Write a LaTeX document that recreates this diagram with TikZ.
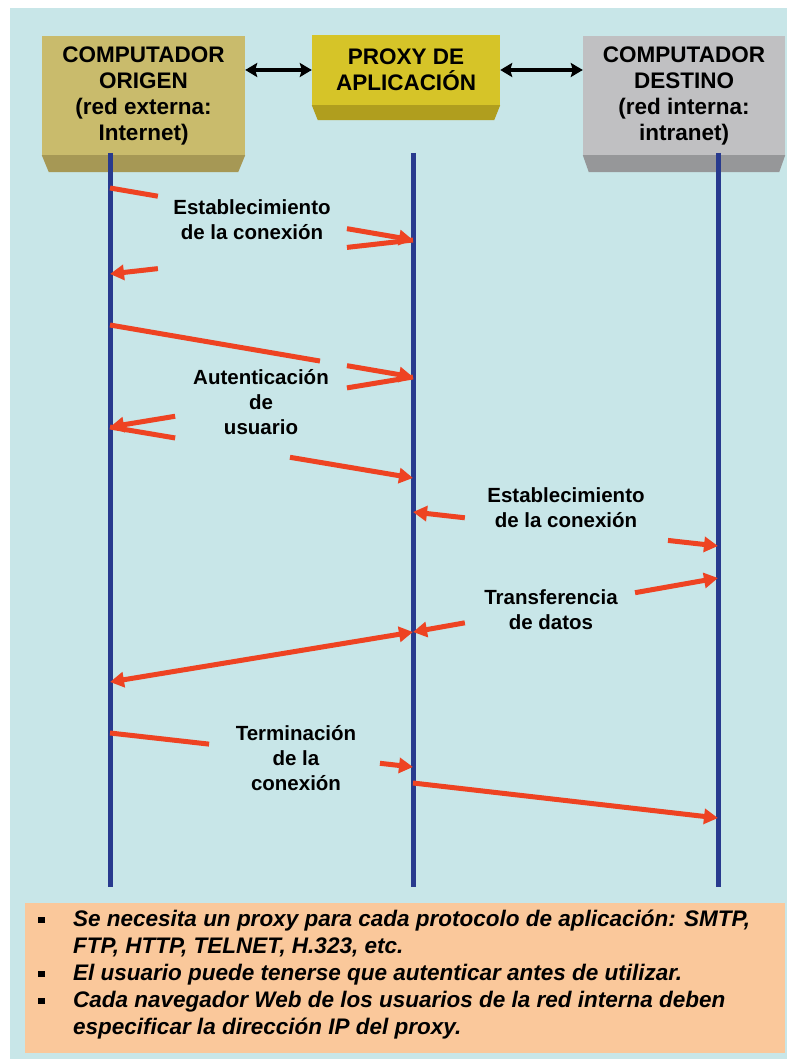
\documentclass[tikz,border=0pt]{standalone}
\usepackage{fontspec}
\setmainfont{Liberation Sans}
\usetikzlibrary{arrows.meta,calc}
\definecolor{bgc}{RGB}{200,230,232}
\definecolor{orgc}{RGB}{250,200,155}
\definecolor{boxAc}{RGB}{201,187,108}
\definecolor{boxAd}{RGB}{166,152,85}
\definecolor{boxBc}{RGB}{214,196,40}
\definecolor{boxBd}{RGB}{176,158,30}
\definecolor{boxCc}{RGB}{192,192,194}
\definecolor{boxCd}{RGB}{150,151,153}
\definecolor{msgc}{RGB}{238,67,34}
\definecolor{lifec}{RGB}{40,58,142}
\newcommand\bulsq{\rule[3pt]{6.5pt}{6.5pt}}
\begin{document}
\begin{tikzpicture}[x=1pt,y=-1pt,
  hdr/.style={inner sep=0pt, align=center, font=\fontsize{22.5}{26}\selectfont\bfseries},
  lbl/.style={inner sep=0pt, align=center, font=\fontsize{20.5}{25}\selectfont\bfseries},
  dbl/.style={line width=4pt, black, {Stealth[length=12pt,width=14pt,inset=2pt]}-{Stealth[length=12pt,width=14pt,inset=2pt]}},
  life/.style={line width=5pt, lifec},
  msg/.style={line width=5pt, msgc},
  tip/.style={-{Triangle[length=14pt,width=15pt]}},
  tipback/.style={{Triangle[length=14pt,width=15pt]}-},
  tipboth/.style={{Triangle[length=14pt,width=15pt]}-{Triangle[length=14pt,width=15pt]}}
]
\useasboundingbox (0,0) rectangle (793,1059);
\fill[bgc] (10,8) rectangle (787,1059);
\fill[orgc] (25,903) rectangle (785,1053);

% boxes
\node[hdr, fill=boxAc, minimum width=203pt, minimum height=119pt] (orig) at (143.5,95.5)
  {COMPUTADOR\\ORIGEN\\(red externa:\\Internet)};
\node[hdr, fill=boxBc, minimum width=188pt, minimum height=70pt] (proxy) at (406,70)
  {PROXY DE\\APLICACIÓN};
\node[hdr, fill=boxCc, minimum width=202pt, minimum height=119pt] (dest) at (684,95.5)
  {COMPUTADOR\\DESTINO\\(red interna:\\intranet)};
\fill[boxAd] (orig.south west) -- (orig.south east) -- ($(orig.south east)+(-7,17)$) -- ($(orig.south west)+(7,17)$) -- cycle;
\fill[boxBd] (proxy.south west) -- (proxy.south east) -- ($(proxy.south east)+(-6,15)$) -- ($(proxy.south west)+(6,15)$) -- cycle;
\fill[boxCd] (dest.south west) -- (dest.south east) -- ($(dest.south east)+(-6,17)$) -- ($(dest.south west)+(6,17)$) -- cycle;

\draw[dbl] (orig.east |- proxy) -- (proxy.west);
\draw[dbl] (proxy.east) -- (dest.west |- proxy);

% lifelines
\coordinate (L1t) at (110,153); \coordinate (L1b) at (110,887);
\coordinate (L2t) at (413,153); \coordinate (L2b) at (413,887);
\coordinate (L3t) at (718,153); \coordinate (L3b) at (718,887);
\draw[life] (L1t) -- (L1b);
\draw[life] (L2t) -- (L2b);
\draw[life] (L3t) -- (L3b);

% message end points
\coordinate (a1s) at (110,188); \coordinate (a1e) at (413,240);
\coordinate (a2e) at (110,274);
\coordinate (a3s) at (110,325); \coordinate (a3e) at (413,377);
\coordinate (a4e) at (110,427);
\coordinate (a5e) at (413,478);
\coordinate (a6s) at (413,512); \coordinate (a6e) at (718,546);
\coordinate (a7s) at (413,632); \coordinate (a7e) at (718,578);
\coordinate (a8s) at (110,682);
\coordinate (a9s) at (110,733); \coordinate (a9e) at (413,767);
\coordinate (a10s) at (413,783); \coordinate (a10e) at (718,818);

% messages (interrupted by labels)
\draw[msg] (a1s) -- ($(a1s)!0.158!(a1e)$);
\draw[msg,tip] ($(a1s)!0.782!(a1e)$) -- (a1e);
\draw[msg] (a1e) -- ($(a1e)!0.218!(a2e)$);
\draw[msg,tip] ($(a1e)!0.842!(a2e)$) -- (a2e);
\draw[msg] (a3s) -- ($(a3s)!0.693!(a3e)$);
\draw[msg,tip] ($(a3s)!0.782!(a3e)$) -- (a3e);
\draw[msg] (a3e) -- ($(a3e)!0.218!(a4e)$);
\draw[msg,tip] ($(a3e)!0.785!(a4e)$) -- (a4e);
\draw[msg] (a4e) -- ($(a4e)!0.215!(a5e)$);
\draw[msg,tip] ($(a4e)!0.594!(a5e)$) -- (a5e);
\draw[msg,tipback] (a6s) -- ($(a6s)!0.17!(a6e)$);
\draw[msg,tip] ($(a6s)!0.836!(a6e)$) -- (a6e);
\draw[msg,tipback] (a7s) -- ($(a7s)!0.17!(a7e)$);
\draw[msg,tip] ($(a7s)!0.728!(a7e)$) -- (a7e);
\draw[msg,tipboth] (a8s) -- (a7s);
\draw[msg] (a9s) -- ($(a9s)!0.327!(a9e)$);
\draw[msg,tip] ($(a9s)!0.891!(a9e)$) -- (a9e);
\draw[msg,tip] (a10s) -- (a10e);

% labels
\node[lbl] (lest1) at (252,220) {Establecimiento\\de la conexión};
\node[lbl] (laut) at (261,402) {Autenticación\\de\\usuario};
\node[lbl] (lest2) at (566,508) {Establecimiento\\de la conexión};
\node[lbl] (ltra) at (551,610) {Transferencia\\de datos};
\node[lbl] (lter) at (296,758) {Terminación\\de la\\conexión};

% notes
\node[anchor=north west, inner sep=0pt, font=\fontsize{22.5}{27}\selectfont\bfseries\itshape] (notes) at (38,907)
 {\begin{tabular}{@{}p{35pt}@{}l@{}}
  \bulsq & Se necesita un proxy para cada protocolo de aplicación: SMTP,\\
         & FTP, HTTP, TELNET, H.323, etc.\\
  \bulsq & El usuario puede tenerse que autenticar antes de utilizar.\\
  \bulsq & Cada navegador Web de los usuarios de la red interna deben\\
         & especificar la dirección IP del proxy.
  \end{tabular}};
\end{tikzpicture}
\end{document}
